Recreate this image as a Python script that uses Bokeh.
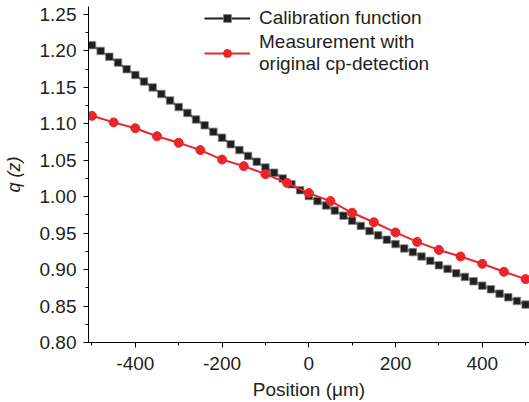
from bokeh.plotting import figure
from bokeh.models import (ColumnDataSource, Range1d, SingleIntervalTicker, PrintfTickFormatter,
                          Legend, LegendItem)
from bokeh.embed import file_html
from bokeh.resources import INLINE

# ---- data ----
calib_pos = list(range(-500, 501, 20))
calib_q = [1.208, 1.200, 1.192, 1.184, 1.175, 1.167, 1.158, 1.150, 1.141, 1.132,
           1.123, 1.115, 1.106, 1.098, 1.089, 1.081, 1.072, 1.064, 1.056, 1.048,
           1.040, 1.033, 1.025, 1.017, 1.009, 1.001, 0.994, 0.988, 0.981, 0.974,
           0.967, 0.960, 0.953, 0.947, 0.941, 0.935, 0.929, 0.924, 0.918, 0.912,
           0.906, 0.901, 0.895, 0.890, 0.884, 0.878, 0.873, 0.867, 0.862, 0.857,
           0.852]
meas_pos = list(range(-500, 501, 50))
meas_q = [1.111, 1.102, 1.094, 1.083, 1.074, 1.064, 1.051, 1.042, 1.031, 1.019,
          1.005, 0.994, 0.978, 0.965, 0.951, 0.938, 0.927, 0.918, 0.908, 0.897,
          0.887]
calib_label = "Calibration function"
meas_label = "Measurement with\noriginal cp-detection"
x_label = "Position (\u03bcm)"
y_label = "q (z)"

FONT = "Liberation Sans"
FS = "19px"
TXT = "#231f20"
RED = "#e8262b"
BLK = "#231f20"

p = figure(width=529, height=402, output_backend="svg", toolbar_location=None,
           x_range=Range1d(-508, 509), y_range=Range1d(0.80, 1.261),
           min_border_left=88, min_border_right=0, min_border_top=6, min_border_bottom=59)
p.outline_line_color = None
p.xgrid.visible = False
p.ygrid.visible = False

cs = ColumnDataSource(dict(x=calib_pos, y=calib_q))
ms = ColumnDataSource(dict(x=meas_pos, y=meas_q))

cl = p.line("x", "y", source=cs, line_color=BLK, line_width=2)
cm = p.scatter("x", "y", source=cs, marker="square", size=7.5, fill_color=BLK,
               line_color="#8a8a8a", line_width=0.8)
ml = p.line("x", "y", source=ms, line_color=RED, line_width=2)
mm = p.scatter("x", "y", source=ms, marker="circle", size=9, fill_color=RED, line_color=RED)

# axes
for ax in (p.xaxis[0], p.yaxis[0]):
    ax.axis_line_color = "black"
    ax.major_tick_line_color = "black"
    ax.minor_tick_line_color = "black"
    ax.major_tick_out = 5
    ax.major_tick_in = 0
    ax.minor_tick_out = 3
    ax.minor_tick_in = 0
    ax.major_label_text_font = FONT
    ax.major_label_text_font_size = FS
    ax.major_label_text_color = TXT
    ax.axis_label_text_font = FONT
    ax.axis_label_text_font_size = FS
    ax.axis_label_text_color = TXT

p.xaxis.ticker = SingleIntervalTicker(interval=200, num_minor_ticks=2)
p.xaxis.formatter = PrintfTickFormatter(format="%d")
p.xaxis.major_label_standoff = 9
p.xaxis.axis_label = x_label
p.xaxis.axis_label_text_font_style = "normal"
p.xaxis.axis_label_standoff = 6

p.yaxis.ticker = SingleIntervalTicker(interval=0.05, num_minor_ticks=2)
p.yaxis.formatter = PrintfTickFormatter(format="%.2f")
p.yaxis.major_label_standoff = 7
p.yaxis.axis_label = y_label
p.yaxis.axis_label_text_font_style = "italic"
p.yaxis.axis_label_text_font_size = "18px"
p.yaxis.axis_label_standoff = 13

legend = Legend(items=[LegendItem(label=calib_label, renderers=[cl, cm]),
                       LegendItem(label=meas_label, renderers=[ml, mm])],
                location=(116, 267), padding=0, margin=0, spacing=2,
                glyph_width=46, glyph_height=20, label_standoff=9,
                label_text_font=FONT, label_text_font_size=FS, label_text_color=TXT,
                label_text_line_height=1.25,
                background_fill_alpha=0, border_line_alpha=0)
p.add_layout(legend, "center")

open("out.html", "w").write(file_html(p, INLINE))
